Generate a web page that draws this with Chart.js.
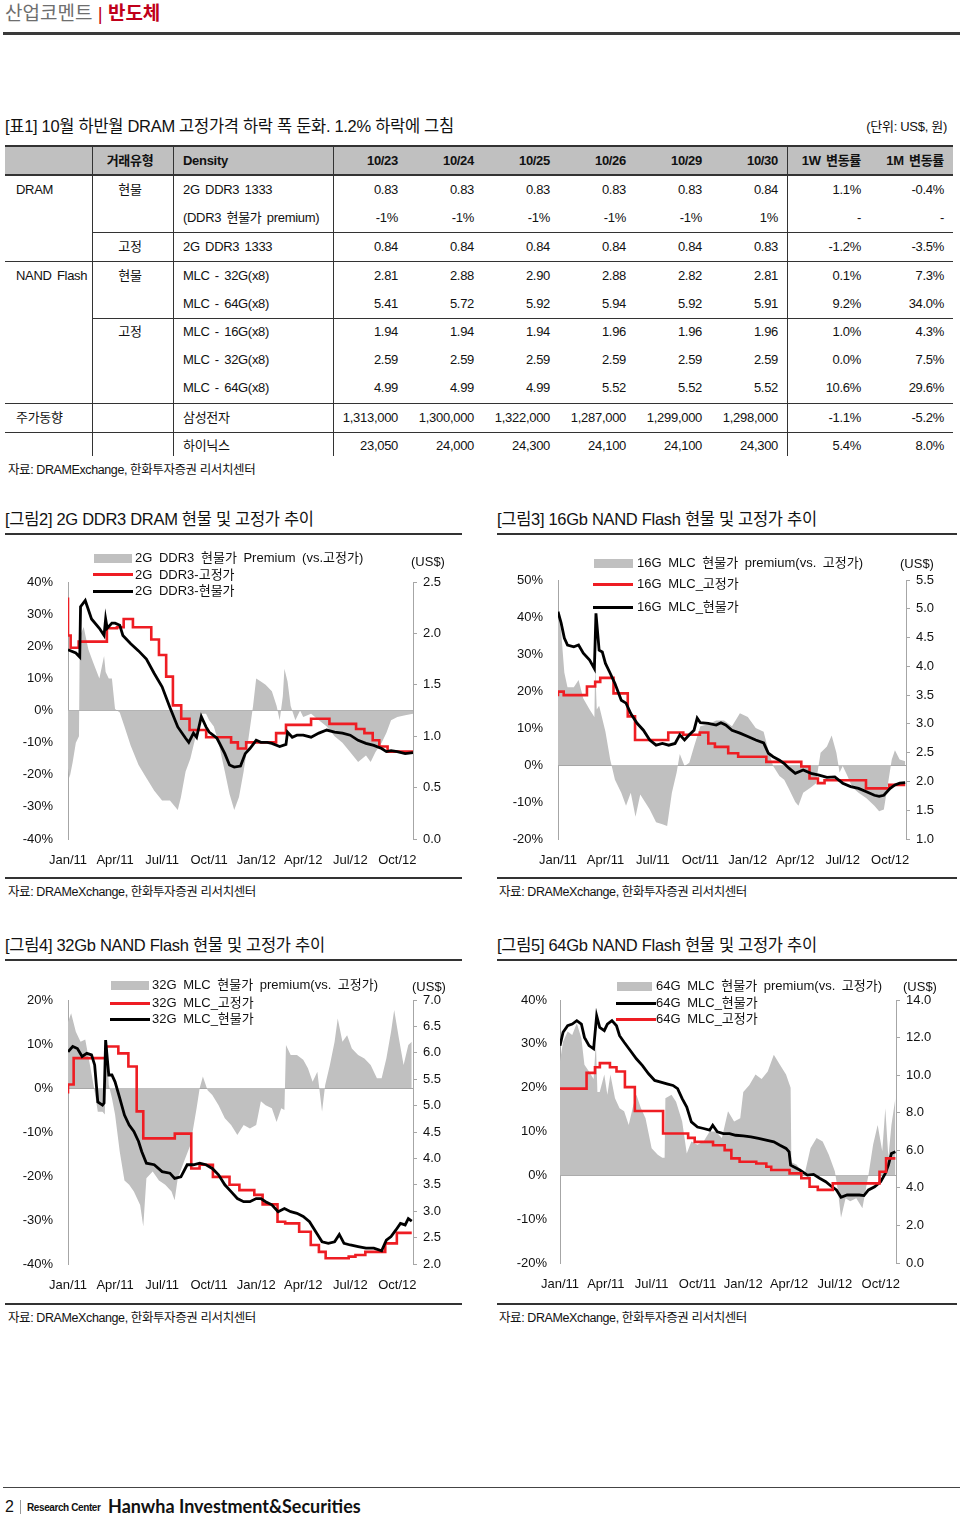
<!DOCTYPE html>
<html lang="ko">
<head>
<meta charset="utf-8">
<script src="https://cdn.jsdelivr.net/npm/chart.js@4.4.0/dist/chart.umd.min.js"></script>
<style>
body { margin: 0; background: #fff; }
#page { position: relative; width: 960px; height: 1516px; overflow: hidden; font-family: "Liberation Sans", "Noto Sans CJK KR", sans-serif; color: #111; }
.t { position: absolute; white-space: nowrap; line-height: 20px; }
.r { position: absolute; background: #333; }
.lg { font-size: 13px; word-spacing: 3px; }
.ttl { font-size: 16.5px; line-height: 22px; letter-spacing: -0.3px; }
.src { font-size: 12.5px; letter-spacing: -0.4px; }
canvas { position: absolute; }
</style>
</head>
<body>
<div id="page">
  <div class="t" style="left:5px;top:3px;font-size:19px;line-height:22px;color:#6e6e6e">산업코멘트 <span style="color:#c0001a">| <b>반도체</b></span></div>
  <div class="r" style="left:3px;top:32px;width:957px;height:3px;background:#3a3a3a"></div>

  <div class="t ttl" style="left:5px;top:115px">[표1] 10월 하반월 DRAM 고정가격 하락 폭 둔화. 1.2% 하락에 그침</div>
  <div class="t" style="right:13px;top:117px;font-size:13px;letter-spacing:-0.3px">(단위: US$, 원)</div>
  <div id="table"></div>
  <div class="t src" style="left:8px;top:460px">자료: DRAMExchange, 한화투자증권 리서치센터</div>

  <div class="t ttl" style="left:5px;top:508px">[그림2] 2G DDR3 DRAM 현물 및 고정가 추이</div>
  <div class="t ttl" style="left:497px;top:508px">[그림3] 16Gb NAND Flash 현물 및 고정가 추이</div>
  <div class="r" style="left:5px;top:533px;width:457px;height:1.5px"></div>
  <div class="r" style="left:497px;top:533px;width:460px;height:1.5px"></div>

  <canvas id="c1"></canvas>
  <canvas id="c2"></canvas>

  <div class="r" style="left:5px;top:877px;width:457px;height:1.5px"></div>
  <div class="r" style="left:497px;top:877px;width:460px;height:1.5px"></div>
  <div class="t src" style="left:8px;top:882px">자료: DRAMeXchange, 한화투자증권 리서치센터</div>
  <div class="t src" style="left:499px;top:882px">자료: DRAMeXchange, 한화투자증권 리서치센터</div>

  <div class="t ttl" style="left:5px;top:934px">[그림4] 32Gb NAND Flash 현물 및 고정가 추이</div>
  <div class="t ttl" style="left:497px;top:934px">[그림5] 64Gb NAND Flash 현물 및 고정가 추이</div>
  <div class="r" style="left:5px;top:959px;width:457px;height:1.5px"></div>
  <div class="r" style="left:497px;top:959px;width:460px;height:1.5px"></div>

  <canvas id="c3"></canvas>
  <canvas id="c4"></canvas>

  <div class="r" style="left:5px;top:1303px;width:457px;height:1.5px"></div>
  <div class="r" style="left:497px;top:1303px;width:460px;height:1.5px"></div>
  <div class="t src" style="left:8px;top:1308px">자료: DRAMeXchange, 한화투자증권 리서치센터</div>
  <div class="t src" style="left:499px;top:1308px">자료: DRAMeXchange, 한화투자증권 리서치센터</div>

  <!-- legends -->
  <div class="r" style="left:94px;top:554px;width:38px;height:9px;background:#c0c0c0"></div>
  <div class="t lg" style="left:135px;top:548px">2G DDR3 현물가 Premium (vs.고정가)</div>
  <div class="r" style="left:93px;top:573px;width:40px;height:3px;background:#ee1d23"></div>
  <div class="t lg" style="left:135px;top:565px">2G DDR3-고정가</div>
  <div class="r" style="left:93px;top:590px;width:40px;height:3px;background:#000"></div>
  <div class="t lg" style="left:135px;top:581px">2G DDR3-현물가</div>
  <div class="t lg" style="left:411px;top:552px">(US$)</div>

  <div class="r" style="left:594px;top:559px;width:39px;height:9px;background:#c0c0c0"></div>
  <div class="t lg" style="left:637px;top:553px">16G MLC 현물가 premium(vs. 고정가)</div>
  <div class="r" style="left:593px;top:583px;width:40px;height:3px;background:#ee1d23"></div>
  <div class="t lg" style="left:637px;top:574px">16G MLC_고정가</div>
  <div class="r" style="left:593px;top:606px;width:40px;height:3px;background:#000"></div>
  <div class="t lg" style="left:637px;top:597px">16G MLC_현물가</div>
  <div class="t lg" style="left:900px;top:554px">(US$)</div>

  <div class="r" style="left:111px;top:981px;width:38px;height:9px;background:#c0c0c0"></div>
  <div class="t lg" style="left:152px;top:975px">32G MLC 현물가 premium(vs. 고정가)</div>
  <div class="r" style="left:110px;top:1002px;width:40px;height:3px;background:#ee1d23"></div>
  <div class="t lg" style="left:152px;top:993px">32G MLC_고정가</div>
  <div class="r" style="left:110px;top:1018px;width:40px;height:3px;background:#000"></div>
  <div class="t lg" style="left:152px;top:1009px">32G MLC_현물가</div>
  <div class="t lg" style="left:412px;top:977px">(US$)</div>

  <div class="r" style="left:617px;top:982px;width:35px;height:9px;background:#c0c0c0"></div>
  <div class="t lg" style="left:656px;top:976px">64G MLC 현물가 premium(vs. 고정가)</div>
  <div class="r" style="left:616px;top:1002px;width:40px;height:3px;background:#000"></div>
  <div class="t lg" style="left:656px;top:993px">64G MLC_현물가</div>
  <div class="r" style="left:616px;top:1018px;width:40px;height:3px;background:#ee1d23"></div>
  <div class="t lg" style="left:656px;top:1009px">64G MLC_고정가</div>
  <div class="t lg" style="left:903px;top:977px">(US$)</div>

  <div class="r" style="left:3px;top:1487px;width:957px;height:1px;background:#444"></div>
  <div class="t" style="left:5px;top:1497px;font-size:16px">2</div>
  <div class="r" style="left:20px;top:1500px;width:1px;height:14px;background:#999"></div>
  <div class="t" style="left:27px;top:1498px;font-size:10px;font-weight:bold;letter-spacing:-0.4px">Research Center</div>
  <div class="t" style="left:108px;top:1496px;font-size:18px;font-family:Lato,sans-serif;font-weight:bold">Hanwha Investment&amp;Securities</div>
</div>

<script>
// x positions are months since Jan 2011
const xTickLabels = ['Jan/11', 'Apr/11', 'Jul/11', 'Oct/11', 'Jan/12', 'Apr/12', 'Jul/12', 'Oct/12'];

// [그림2] 2G DDR3
const ddrPremX = [0, 0.1, 0.3, 0.5, 0.7, 0.75, 1, 1.3, 1.6, 2, 2.3, 2.4, 2.6, 2.8, 3, 3.3, 3.6, 4, 4.5, 5, 5.5, 6, 6.5, 7, 7.2, 7.5, 7.8, 8, 8.3, 8.5, 8.8, 9, 9.3, 9.6, 10, 10.3, 10.6, 10.9, 11.2, 11.5, 11.8, 12, 12.3, 12.6, 13, 13.3, 13.5, 13.7, 13.8, 14, 14.2, 14.5, 14.8, 15, 15.5, 16, 16.5, 17, 17.5, 18, 18.5, 19, 19.3, 19.6, 20, 20.3, 20.6, 21, 21.5, 22];
const ddrPremY = [-18, -21, -16, -10, -8, 23, 26, 19, 15, 10, 17, 12, 10, 10, 0.5, -0.6, -5, -11, -17, -21, -25, -28, -28, -31, -27, -19, -15, -11, -5, -1, -1, -3, -5, -10, -19, -26, -31, -27, -19, -9, 1.4, 10, 9, 8, 6, 1.5, -3, 4.5, 13, 9, 1.4, -3, 0, -2, -1, -3, -5, -8, -10, -13, -16, -14, -16, -13, -10, -7, -3, -2, -1.5, -1];
const ddrFixX = [0, 0.17, 0.68, 2.48, 3.12, 3.55, 4.14, 5.31, 5.8, 6.26, 6.69, 7.22, 7.75, 8.81, 10.4, 10.83, 11.36, 13.27, 13.9, 15.5, 16.67, 18.37, 18.9, 19.43, 19.85, 20.38, 20.9, 22];
const ddrFixY = [2.35, 1.98, 1.86, 1.92, 2.05, 2.06, 2.14, 2.06, 1.94, 1.79, 1.58, 1.30, 1.17, 1.06, 0.99, 0.94, 0.88, 0.94, 1.03, 1.11, 1.17, 1.12, 1.07, 1.03, 0.96, 0.90, 0.85, 0.85];
const ddrSpotX = [0, 0.5, 0.75, 0.8, 1.1, 1.5, 2, 2.3, 2.4, 2.5, 2.8, 3, 3.3, 3.5, 4, 4.5, 5, 5.5, 6, 6.5, 7, 7.5, 7.7, 8, 8.2, 8.5, 8.8, 9, 9.5, 10, 10.3, 10.6, 11, 11.3, 11.6, 12, 12.3, 12.7, 13, 13.5, 13.9, 14, 14.3, 14.6, 15, 15.5, 16, 16.5, 17, 17.5, 18, 18.5, 19, 19.5, 20, 20.3, 20.6, 21, 21.5, 22];
const ddrSpotY = [1.84, 1.81, 1.77, 2.26, 2.32, 2.14, 2.05, 1.98, 2.14, 2.05, 2.10, 2.10, 2.08, 1.98, 1.90, 1.83, 1.75, 1.61, 1.48, 1.28, 1.09, 0.98, 0.94, 1.03, 0.99, 1.19, 1.09, 1.04, 0.98, 0.83, 0.72, 0.70, 0.71, 0.83, 0.88, 0.96, 0.94, 0.94, 0.93, 0.90, 0.92, 1.04, 0.99, 1.01, 1.01, 0.99, 1.03, 1.06, 1.04, 1.03, 1.01, 0.96, 0.93, 0.91, 0.88, 0.85, 0.86, 0.85, 0.83, 0.84];

// [그림3] 16Gb MLC
const n16PremX = [0, 0.2, 0.4, 0.6, 1, 1.3, 1.6, 2, 2.3, 2.35, 2.45, 2.6, 3, 3.3, 3.6, 4, 4.3, 4.6, 4.9, 5.2, 5.5, 5.8, 6.2, 6.6, 6.9, 7.2, 7.5, 7.7, 8, 8.3, 8.6, 9, 9.5, 10, 10.5, 11, 11.5, 12, 12.5, 13, 13.3, 13.6, 14, 14.3, 14.6, 15, 15.2, 15.5, 16, 16.3, 16.6, 17, 17.3, 17.6, 17.8, 18, 18.3, 18.6, 19, 19.5, 20, 20.3, 20.6, 20.9, 21.1, 21.3, 21.6, 21.95];
const n16PremY = [41, 36, 25, 21, 21, 23, 18, 15, 13, 27, 15, 16, 9, 1.5, -4, -7.5, -11, -7.5, -14, -8, -10, -12, -15.5, -16, -16.5, -7.5, -2, 3, -0.3, 0.6, 5, 10.5, 11, 12, 12, 10.5, 14, 13, 10, 9, 4, -0.3, -3, -4, -6.5, -10, -11, -7.5, -6, -5, 3.3, 5, 8, 3.3, -2, -0.3, -3, -6, -7.5, -9, -11, -12.5, -12, -4, 1.5, 4, 1.5, 1];
const n16FixX = [0, 0.36, 1.83, 2.35, 2.67, 3.51, 4.41, 4.87, 6.97, 7.92, 8.97, 9.5, 9.92, 10.76, 11.39, 13.17, 15.38, 15.9, 16.43, 16.85, 19.47, 20.94, 21.37, 21.95];
const n16FixY = [3.48, 3.56, 3.50, 3.65, 3.73, 3.80, 3.53, 3.13, 2.72, 2.85, 2.81, 2.85, 2.66, 2.60, 2.49, 2.43, 2.34, 2.26, 2.05, 1.97, 2.02, 1.88, 1.94, 1.94];
const n16SpotX = [0, 0.2, 0.4, 0.6, 1, 1.3, 1.6, 2, 2.3, 2.4, 2.6, 2.8, 3, 3.3, 3.6, 4, 4.3, 4.6, 5, 5.4, 5.8, 6.2, 6.6, 7, 7.4, 7.7, 8, 8.3, 8.6, 8.8, 9, 9.5, 10, 10.3, 10.6, 11, 11.5, 12, 12.5, 13, 13.3, 13.6, 14, 14.3, 14.6, 15, 15.5, 16, 16.5, 17, 17.5, 18, 18.5, 19, 19.5, 20, 20.3, 20.6, 21, 21.3, 21.6, 21.95];
const n16SpotY = [4.95, 4.75, 4.49, 4.37, 4.34, 4.37, 4.23, 4.11, 3.96, 4.92, 4.28, 4.25, 4.05, 3.88, 3.70, 3.41, 3.36, 3.18, 3.01, 2.89, 2.72, 2.63, 2.66, 2.63, 2.66, 2.81, 2.72, 2.81, 2.89, 3.10, 3.02, 3.01, 2.98, 3.02, 2.98, 2.89, 2.84, 2.78, 2.72, 2.67, 2.49, 2.43, 2.37, 2.31, 2.23, 2.14, 2.20, 2.14, 2.11, 2.07, 2.08, 1.97, 1.91, 1.88, 1.82, 1.76, 1.74, 1.76, 1.88, 1.94, 1.97, 1.98];

// [그림4] 32Gb MLC
const n32PremX = [0, 0.2, 0.5, 0.8, 1.1, 1.4, 1.7, 1.9, 2.2, 2.35, 2.45, 2.6, 2.8, 3, 3.3, 3.6, 3.9, 4.2, 4.6, 4.8, 5, 5.4, 5.8, 6.2, 6.6, 6.8, 7, 7.4, 7.8, 8.2, 8.4, 8.6, 8.9, 9.2, 9.6, 10, 10.4, 10.8, 11.2, 11.6, 12, 12.3, 12.6, 13, 13.3, 13.6, 13.8, 13.9, 14.2, 14.6, 15, 15.3, 15.6, 15.9, 16.2, 16.4, 16.7, 17, 17.2, 17.5, 17.8, 18.1, 18.5, 18.9, 19.3, 19.7, 20, 20.3, 20.6, 20.8, 21.1, 21.4, 21.7, 21.92];
const n32PremY = [15, 17, 12.8, 10.5, 11, 5.2, -0.8, -5.4, -5.4, -6, 11.3, 0.7, -2.3, -6, -14.5, -21, -22, -23.5, -26.6, -31.5, -20.5, -19, -21, -22, -23.5, -25.5, -20.5, -16.7, -13, -4.6, 0, 2.6, -0.5, -1.6, -3.9, -6.9, -8.4, -10.7, -8.4, -9.2, -8.4, -3, -3.9, -4.6, -7.7, -4.6, -5, 9.8, 7.5, 7.5, 6.4, 4.5, 1.4, 3.7, -5.4, 0.7, 5.2, 10.5, 15.8, 10.5, 12, 9, 7.5, 6.7, 5.2, 2.2, 2.2, 6.7, 12.8, 17.7, 11.3, 5.2, 9.8, 10.5];
const n32FixX = [0, 0.36, 2.43, 3.21, 3.85, 4.38, 4.8, 6.81, 7.86, 8.39, 9.24, 10.3, 10.93, 11.88, 12.41, 13.36, 13.85, 14.74, 15.48, 16.0, 16.43, 17.9, 18.33, 18.96, 20.23, 20.97, 21.4, 21.92];
const n32FixY = [5.23, 5.40, 5.90, 6.12, 5.99, 5.74, 4.89, 4.38, 4.47, 3.81, 3.88, 3.65, 3.50, 3.40, 3.31, 3.13, 2.80, 2.77, 2.61, 2.36, 2.23, 2.11, 2.14, 2.17, 2.23, 2.39, 2.59, 2.59];
const n32SpotX = [0, 0.3, 0.6, 0.9, 1.2, 1.5, 1.7, 1.9, 2.2, 2.3, 2.4, 2.6, 2.8, 3, 3.3, 3.6, 3.9, 4.2, 4.5, 4.7, 5, 5.5, 6, 6.5, 6.8, 7.2, 7.6, 8, 8.4, 8.8, 9.2, 9.6, 10, 10.4, 10.8, 11.2, 11.6, 12, 12.3, 12.6, 13, 13.4, 13.8, 14.2, 14.6, 15, 15.4, 15.8, 16.2, 16.6, 17, 17.3, 17.6, 18, 18.5, 19, 19.5, 20, 20.3, 20.6, 20.9, 21.2, 21.5, 21.7, 21.92];
const n32SpotY = [6.02, 6.12, 6.08, 5.93, 5.99, 5.96, 5.77, 5.07, 5.01, 5.05, 6.24, 5.58, 5.58, 5.45, 5.14, 4.82, 4.63, 4.51, 4.32, 4.13, 3.91, 3.88, 3.75, 3.72, 3.62, 3.65, 3.88, 3.88, 3.91, 3.88, 3.81, 3.69, 3.50, 3.37, 3.24, 3.18, 3.18, 3.24, 3.24, 3.18, 3.12, 2.99, 3.05, 2.99, 2.96, 2.90, 2.80, 2.61, 2.42, 2.39, 2.42, 2.56, 2.39, 2.36, 2.33, 2.30, 2.30, 2.25, 2.45, 2.52, 2.64, 2.77, 2.74, 2.86, 2.81];

// [그림5] 64Gb MLC
const n64PremX = [0, 0.2, 0.5, 0.8, 1.1, 1.4, 1.6, 1.9, 2.2, 2.35, 2.45, 2.6, 2.9, 3.1, 3.3, 3.6, 3.9, 4.2, 4.5, 4.8, 5, 5.3, 5.6, 6, 6.4, 6.7, 6.85, 6.9, 7.3, 7.6, 8, 8.3, 8.6, 9, 9.4, 9.8, 10.2, 10.6, 11, 11.4, 11.8, 12, 12.4, 12.8, 13.2, 13.6, 14, 14.4, 14.8, 15.1, 15.15, 15.5, 16, 16.4, 16.8, 17.2, 17.6, 18, 18.2, 18.4, 18.7, 19, 19.4, 19.8, 20.2, 20.5, 20.8, 21.1, 21.3, 21.5, 21.7, 21.96];
const n64PremY = [26, 30.5, 32.8, 32, 34.7, 31.3, 25.2, 23.7, 22, 30.5, 19, 19, 23, 18.4, 23, 17.6, 15.3, 14.6, 11.5, 16, 18.4, 15.3, 13, 6.2, 4.7, 4, 4, 17.6, 18.4, 16.8, 12.3, 5, 7.7, 7, 7.7, 10, 10, 8.5, 14.6, 12.3, 13, 19, 20.6, 23, 22, 23.7, 27.5, 25.2, 23, 20, 3, 2.4, 0, 6.2, 8.5, 7.7, 4.7, 0.9, -3.6, -9.7, -5.2, -5.9, -5.2, -7.5, 0.2, 7, 11.5, 5.5, 15.3, 4, 11.5, 17.6];
const n64FixX = [0, 1.74, 2.29, 2.61, 3.27, 3.70, 4.25, 4.90, 6.75, 8.39, 8.82, 10.02, 10.78, 11.22, 11.76, 12.85, 13.51, 13.83, 15.03, 15.8, 16.34, 16.88, 17.86, 20.92, 21.35, 21.57, 21.96];
const n64FixY = [9.36, 9.28, 10.12, 10.42, 10.64, 10.42, 10.19, 9.36, 8.09, 6.89, 6.66, 6.45, 6.27, 6.01, 5.57, 5.39, 5.30, 5.12, 4.95, 4.77, 4.51, 4.06, 3.89, 4.24, 4.86, 5.57, 5.57];
const n64SpotX = [0, 0.2, 0.5, 0.8, 1.1, 1.4, 1.6, 1.9, 2.2, 2.4, 2.6, 2.9, 3.1, 3.4, 3.7, 3.9, 4.2, 4.6, 5, 5.4, 5.8, 6.2, 6.6, 7, 7.4, 7.7, 8, 8.3, 8.6, 9, 9.4, 9.8, 10, 10.3, 10.7, 11.1, 11.5, 12, 12.5, 13, 13.5, 14, 14.4, 14.8, 15, 15.1, 15.3, 15.7, 16.2, 16.6, 17, 17.4, 17.8, 18.1, 18.4, 18.8, 19.2, 19.6, 19.9, 20.2, 20.6, 21, 21.3, 21.5, 21.7, 21.96];
const n64SpotY = [11.57, 12.28, 12.63, 12.72, 12.90, 12.72, 12.01, 11.57, 11.40, 13.16, 12.54, 12.37, 12.72, 12.90, 12.63, 12.10, 11.75, 11.31, 10.87, 10.51, 10.07, 9.72, 9.63, 9.54, 9.45, 9.28, 8.75, 8.30, 7.51, 7.24, 7.16, 7.07, 7.33, 6.98, 6.89, 6.89, 6.80, 6.77, 6.71, 6.63, 6.54, 6.45, 6.27, 6.10, 5.92, 5.21, 5.12, 4.95, 4.68, 4.72, 4.51, 4.33, 4.06, 3.89, 3.50, 3.62, 3.62, 3.62, 3.59, 3.89, 4.06, 4.33, 4.77, 5.21, 5.83, 5.92];

// [표1]
const tableHead = ['', '거래유형', 'Density', '10/23', '10/24', '10/25', '10/26', '10/29', '10/30', '1W 변동률', '1M 변동률'];
const tableRows = [
  ['DRAM', '현물', '2G DDR3 1333', '0.83', '0.83', '0.83', '0.83', '0.83', '0.84', '1.1%', '-0.4%'],
  ['', '', '(DDR3 현물가 premium)', '-1%', '-1%', '-1%', '-1%', '-1%', '1%', '-', '-'],
  ['', '고정', '2G DDR3 1333', '0.84', '0.84', '0.84', '0.84', '0.84', '0.83', '-1.2%', '-3.5%'],
  ['NAND Flash', '현물', 'MLC - 32G(x8)', '2.81', '2.88', '2.90', '2.88', '2.82', '2.81', '0.1%', '7.3%'],
  ['', '', 'MLC - 64G(x8)', '5.41', '5.72', '5.92', '5.94', '5.92', '5.91', '9.2%', '34.0%'],
  ['', '고정', 'MLC - 16G(x8)', '1.94', '1.94', '1.94', '1.96', '1.96', '1.96', '1.0%', '4.3%'],
  ['', '', 'MLC - 32G(x8)', '2.59', '2.59', '2.59', '2.59', '2.59', '2.59', '0.0%', '7.5%'],
  ['', '', 'MLC - 64G(x8)', '4.99', '4.99', '4.99', '5.52', '5.52', '5.52', '10.6%', '29.6%'],
  ['주가동향', '', '삼성전자', '1,313,000', '1,300,000', '1,322,000', '1,287,000', '1,299,000', '1,298,000', '-1.1%', '-5.2%'],
  ['', '', '하이닉스', '23,050', '24,000', '24,300', '24,100', '24,100', '24,300', '5.4%', '8.0%']
];

function buildTable() {
  const box = document.getElementById('table');
  const rowY = [161, 189.5, 217.5, 246.5, 275.5, 303.5, 332, 360, 388, 417.5, 446];
  const rightEdge = [398, 474, 550, 626, 702, 778, 861, 944];
  let html = '<div class="r" style="left:5px;top:146px;width:948px;height:29px;background:#c0c0c0"></div>';
  html += '<div class="r" style="left:5px;top:145px;width:948px;height:2px"></div>';
  html += '<div class="r" style="left:5px;top:174px;width:948px;height:1.5px"></div>';
  [[232, 92], [261, 5], [318, 92], [403, 5], [432, 5]].forEach(([y, x]) => {
    html += '<div class="r" style="left:' + x + 'px;top:' + y + 'px;width:' + (953 - x) + 'px;height:1px"></div>';
  });
  [92, 173, 333, 787].forEach(x => {
    html += '<div class="r" style="left:' + x + 'px;top:146px;width:1px;height:310px"></div>';
  });
  [tableHead].concat(tableRows).forEach((row, r) => {
    const top = rowY[r] - 10;
    row.forEach((cell, c) => {
      if (!cell) return;
      let pos;
      if (c === 0) pos = 'left:16px;';
      else if (c === 1) pos = 'left:80px;width:100px;text-align:center;';
      else if (c === 2) pos = 'left:183px;';
      else pos = 'right:' + (960 - rightEdge[c - 3]) + 'px;';
      const w = r === 0 ? 'font-weight:bold;' : '';
      html += '<div class="t" style="' + pos + 'top:' + top + 'px;font-size:13px;letter-spacing:-0.3px;word-spacing:2px;' + w + '">' + cell + '</div>';
    });
  });
  box.innerHTML = html;
}
buildTable();

function pts(xs, ys) {
  return xs.map((x, i) => ({ x: x, y: ys[i] }));
}

function drawChart(id, g, prem, fix, spot, left, right, redOnTop) {
  const canvas = document.getElementById(id);
  canvas.width = g.w;
  canvas.height = g.h;
  canvas.style.left = g.x + 'px';
  canvas.style.top = g.y + 'px';
  const tickFont = { family: '"Liberation Sans", sans-serif', size: 13 };
  const spotSet = { data: pts(spot[0], spot[1]), yAxisID: 'yr', borderColor: '#000', borderWidth: 2.8, pointRadius: 0, fill: false };
  const fixSet = { data: pts(fix[0], fix[1]), yAxisID: 'yr', borderColor: '#ee1d23', borderWidth: 2.6, pointRadius: 0, stepped: 'after', fill: false };
  const premSet = { data: pts(prem[0], prem[1]), yAxisID: 'yl', borderWidth: 0, borderColor: 'rgba(0,0,0,0)', pointRadius: 0, backgroundColor: '#c0c0c0', fill: 'origin' };
  const sets = redOnTop ? [fixSet, spotSet, premSet] : [spotSet, fixSet, premSet];

  new Chart(canvas.getContext('2d'), {
    type: 'line',
    data: { datasets: sets },
    options: {
      responsive: false,
      animation: false,
      devicePixelRatio: 1,
      layout: { padding: { top: g.t - g.y, left: 0, right: 0, bottom: 0 } },
      plugins: { legend: { display: false }, tooltip: { enabled: false } },
      scales: {
        x: {
          type: 'linear', min: 0, max: 22,
          border: { display: false },
          grid: { display: false, drawTicks: false },
          ticks: {
            stepSize: 3, includeBounds: false, autoSkip: false, maxRotation: 0,
            padding: 14, color: '#111', font: tickFont,
            callback: v => xTickLabels[Math.round(v / 3)]
          },
          afterFit: s => { s.height = g.y + g.h - g.b; }
        },
        yl: {
          position: 'left', min: left[0], max: left[1],
          border: { display: true, color: '#a6a6a6' },
          grid: { drawTicks: false, color: c => (c.tick && c.tick.value === 0) ? '#a6a6a6' : 'rgba(0,0,0,0)' },
          ticks: { stepSize: left[2], padding: g.lp, color: '#111', font: tickFont, callback: v => v + '%' },
          afterFit: s => { s.width = g.l - g.x; }
        },
        yr: {
          position: 'right', min: right[0], max: right[1],
          border: { display: true, color: '#a6a6a6' },
          grid: { drawOnChartArea: false, drawTicks: true, tickLength: 4, color: '#a6a6a6' },
          ticks: { stepSize: right[2], padding: 6, color: '#111', font: tickFont, callback: v => v.toFixed(1) },
          afterFit: s => { s.width = g.x + g.w - g.r; }
        }
      }
    }
  });
}

drawChart('c1', { x: 0, y: 540, w: 462, h: 335, l: 68, r: 413, t: 582, b: 839, lp: 15 },
  [ddrPremX, ddrPremY], [ddrFixX, ddrFixY], [ddrSpotX, ddrSpotY], [-40, 40, 10], [0, 2.5, 0.5], false);
drawChart('c2', { x: 490, y: 540, w: 470, h: 335, l: 558, r: 906, t: 580, b: 839, lp: 15 },
  [n16PremX, n16PremY], [n16FixX, n16FixY], [n16SpotX, n16SpotY], [-20, 50, 10], [1, 5.5, 0.5], false);
drawChart('c3', { x: 0, y: 965, w: 462, h: 335, l: 68, r: 413, t: 1000, b: 1264, lp: 15 },
  [n32PremX, n32PremY], [n32FixX, n32FixY], [n32SpotX, n32SpotY], [-40, 20, 10], [2, 7, 0.5], false);
drawChart('c4', { x: 490, y: 965, w: 470, h: 335, l: 560, r: 896, t: 1000, b: 1263, lp: 13 },
  [n64PremX, n64PremY], [n64FixX, n64FixY], [n64SpotX, n64SpotY], [-20, 40, 10], [0, 14, 2], true);
</script>
</body>
</html>
